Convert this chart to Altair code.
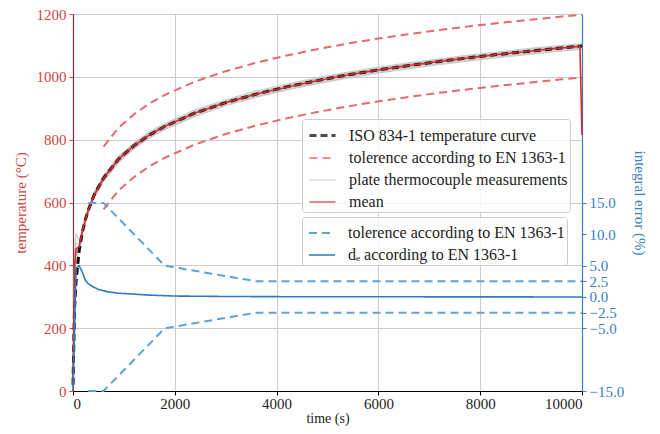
import altair as alt
import pandas as pd

# ---------------- data ----------------
T = [0, 30, 60, 120, 180, 240, 300, 420, 600, 900, 1200, 1500, 1800, 2400, 3000,
     3600, 4200, 4800, 5400, 6000, 6600, 7200, 7800, 8400, 9000, 9600, 10000]
ISO = [20, 261, 349, 445, 502, 544, 576, 626, 678, 739, 781, 815, 842, 885, 918,
       945, 968, 988, 1006, 1022, 1036, 1049, 1061, 1072, 1082, 1092, 1098]

TC1 = [18, 410, 470, 470, 515, 552, 585, 634, 686, 749, 790, 825, 851, 895, 927,
       955, 977, 997, 1015, 1031, 1045, 1057, 1070, 1080, 1091, 1100, 1105]
TC2 = [20, 370, 430, 452, 498, 538, 570, 618, 671, 731, 774, 807, 834, 877, 911,
       937, 961, 980, 999, 1015, 1029, 1042, 1054, 1065, 1075, 1085, 1091]
TC3 = [16, 440, 500, 480, 510, 548, 578, 630, 681, 743, 786, 819, 846, 889, 922,
       949, 972, 992, 1010, 1026, 1040, 1053, 1065, 1076, 1086, 1096, 1101]
TC4 = [14, 350, 410, 440, 494, 533, 566, 615, 666, 728, 771, 805, 832, 874, 908,
       935, 958, 978, 996, 1012, 1026, 1039, 1051, 1062, 1072, 1082, 1088]
TC5 = [19, 400, 455, 462, 506, 546, 580, 628, 683, 745, 787, 821, 848, 891, 923,
       951, 973, 994, 1012, 1027, 1042, 1054, 1067, 1077, 1088, 1097, 1102]
TC6 = [15, 390, 445, 450, 500, 541, 573, 622, 675, 735, 778, 811, 839, 881, 915,
       941, 965, 984, 1003, 1019, 1033, 1046, 1058, 1069, 1079, 1089, 1095]

MEAN_T = [0, 30, 60, 120, 180, 240, 300, 420, 600, 900, 1200, 1500, 1800, 2400, 3000,
          3600, 4200, 4800, 5400, 6000, 6600, 7200, 7800, 8400, 9000, 9600, 9960, 10000]
MEAN = [17, 393, 452, 459, 504, 543, 575, 625, 677, 739, 781, 815, 842, 885, 918,
        945, 967, 988, 1006, 1022, 1036, 1049, 1061, 1072, 1082, 1092, 1097, 815]

TOL_T = [600, 900, 1200, 1500, 1800, 2400, 3000, 3600, 4200, 4800, 5400, 6000,
         6600, 7200, 7800, 8400, 9000, 9600, 10000]
TOL_UP = [778, 839, 881, 915, 942, 985, 1018, 1045, 1068, 1088, 1106, 1122,
          1136, 1149, 1161, 1172, 1182, 1192, 1198]
TOL_LOW = [578, 639, 681, 715, 742, 785, 818, 845, 868, 888, 906, 922,
           936, 949, 961, 972, 982, 992, 998]

ERR_TOL_T = [300, 600, 1800, 3600, 10000]
ERR_TOL_UP = [15, 15, 5, 2.5, 2.5]
ERR_TOL_LOW = [-15, -15, -5, -2.5, -2.5]

DE_T = [0, 60, 120, 180, 240, 300, 400, 500, 700, 900, 1200, 1500, 2000, 3000,
        4000, 6000, 8000, 10000]
DE = [-15, 4.6, 5.0, 4.0, 2.7, 2.1, 1.6, 1.2, 0.8, 0.6, 0.45, 0.3, 0.15, 0.08,
      0.05, 0.03, 0.02, 0.0]

X_TICKS = [0, 2000, 4000, 6000, 8000, 10000]
Y_TICKS = [0, 200, 400, 600, 800, 1000, 1200]
E_TICKS = [-15, -5, -2.5, 0, 2.5, 5, 10, 15]

S_ISO = "ISO 834-1 temperature curve"
S_TOL = "tolerence according to EN 1363-1"
S_TC = "plate thermocouple measurements"
S_MEAN = "mean"
S_DE = "d\u2091 according to EN 1363-1"

# ---------------- tables ----------------
rows = []
for t, v in zip(T, ISO):
    rows.append({"t": t, "v": v, "s": S_ISO, "d": "iso"})
for t, a, b in zip(TOL_T, TOL_UP, TOL_LOW):
    rows.append({"t": t, "v": a, "s": S_TOL, "d": "up"})
    rows.append({"t": t, "v": b, "s": S_TOL, "d": "low"})
for name, arr in [("tc1", TC1), ("tc2", TC2), ("tc3", TC3), ("tc4", TC4), ("tc5", TC5), ("tc6", TC6)]:
    for t, v in zip(T, arr):
        rows.append({"t": t, "v": v, "s": S_TC, "d": name})
for t, v in zip(MEAN_T, MEAN):
    rows.append({"t": t, "v": v, "s": S_MEAN, "d": "mean"})
temp_df = pd.DataFrame(rows)

erows = []
for t, a, b in zip(ERR_TOL_T, ERR_TOL_UP, ERR_TOL_LOW):
    erows.append({"t": t, "e": a, "s": S_TOL, "d": "up"})
    erows.append({"t": t, "e": b, "s": S_TOL, "d": "low"})
for t, v in zip(DE_T, DE):
    erows.append({"t": t, "e": v, "s": S_DE, "d": "de"})
err_df = pd.DataFrame(erows)

FONT = "Liberation Serif"
RED = "#d04444"
BLUE = "#3a80c0"

x_enc = alt.X("t:Q", scale=alt.Scale(domain=[0, 10000], nice=False),
              axis=alt.Axis(values=X_TICKS, format="d", title="time (s)",
                            domainColor="#000000", tickColor="#000000",
                            labelColor="#222222", titleColor="#222222",
                            titleFontWeight="normal", titlePadding=0,
                            labelPadding=1, titleFontSize=14))

legend_common = dict(orient="none", title=None, symbolType="stroke", symbolSize=676,
                     labelFont=FONT, labelFontSize=16, labelColor="#222222",
                     strokeColor="#cccccc", fillColor="rgba(255,255,255,0.8)",
                     cornerRadius=3, padding=2, rowPadding=0, labelOffset=12,
                     symbolOffset=4, labelLimit=400)

LX, LY1, LY2 = 229, 105, 203

t_dom = [S_ISO, S_TOL, S_TC, S_MEAN]
t_color = alt.Color("s:N", scale=alt.Scale(domain=t_dom,
                    range=["#111111", "#e8696b", "#b8b8b8", "#d42a2a"]),
                    legend=alt.Legend(legendX=LX, legendY=LY1, **legend_common))
t_dash = alt.StrokeDash("s:N", scale=alt.Scale(domain=t_dom,
                        range=[[7, 4], [8, 5], [1, 0], [1, 0]]),
                        legend=alt.Legend(legendX=LX, legendY=LY1, **legend_common))
t_width = alt.StrokeWidth("s:N", scale=alt.Scale(type="ordinal", domain=t_dom,
                          range=[3, 2, 1.1, 1.6]),
                          legend=alt.Legend(legendX=LX, legendY=LY1, **legend_common))

y_temp = alt.Y("v:Q", scale=alt.Scale(domain=[0, 1200], nice=False),
               axis=alt.Axis(values=Y_TICKS, format="d", title="temperature (\u00b0C)",
                             labelColor=RED, titleColor=RED, domainColor="#8b2d3a",
                             tickColor=RED, titleFontWeight="normal", titlePadding=8))

base_t = alt.Chart(temp_df)
def tlayer(series, opacity=1.0):
    return base_t.transform_filter(alt.datum.s == series).mark_line(opacity=opacity).encode(
        x=x_enc, y=y_temp, color=t_color, strokeDash=t_dash, strokeWidth=t_width,
        detail="d:N")

left = alt.layer(tlayer(S_TC, 0.75), tlayer(S_ISO), tlayer(S_TOL), tlayer(S_MEAN))

e_dom = [S_TOL, S_DE]
e_color = alt.Color("s:N", scale=alt.Scale(domain=e_dom, range=["#5ea2d8", "#2f7bbd"]),
                    legend=alt.Legend(legendX=LX, legendY=LY2, **legend_common))
e_dash = alt.StrokeDash("s:N", scale=alt.Scale(domain=e_dom, range=[[8, 5], [1, 0]]),
                        legend=alt.Legend(legendX=LX, legendY=LY2, **legend_common))
e_width = alt.StrokeWidth("s:N", scale=alt.Scale(type="ordinal", domain=e_dom,
                          range=[2, 1.6]),
                          legend=alt.Legend(legendX=LX, legendY=LY2, **legend_common))
y_err = alt.Y("e:Q", scale=alt.Scale(domain=[-15, 45.15], nice=False, zero=False),
              axis=alt.Axis(orient="right", values=E_TICKS, format=".1f",
                            title="integral error (%)", labelColor=BLUE, titleColor=BLUE,
                            domainColor=BLUE, tickColor=BLUE, titleFontWeight="normal",
                            titlePadding=8))

base_e = alt.Chart(err_df)
def elayer(series):
    return base_e.transform_filter(alt.datum.s == series).mark_line().encode(
        x=x_enc, y=y_err, color=e_color, strokeDash=e_dash, strokeWidth=e_width,
        detail="d:N")

right = alt.layer(elayer(S_TOL), elayer(S_DE))

chart = alt.layer(left, right).resolve_scale(
    y="independent", color="independent", strokeDash="independent",
    strokeWidth="independent"
).properties(
    width=509, height=377,
    autosize=alt.AutoSizeParams(type="none"),
    padding={"left": 65, "top": 6, "right": 70, "bottom": 35},
).configure(font=FONT).configure_axis(
    labelFont=FONT, titleFont=FONT, labelFontSize=15, titleFontSize=15,
    gridColor="#cccccc", gridWidth=1, tickSize=4, labelPadding=3,
    domainWidth=1.2
).configure_view(stroke=None)

chart.save("out.html", embed_options={"renderer": "svg", "actions": False})
